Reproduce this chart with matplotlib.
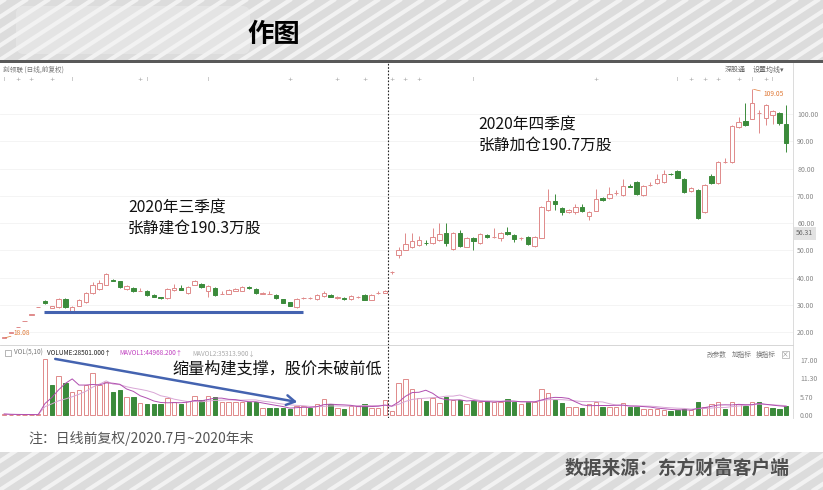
import numpy as np
import pandas as pd
import matplotlib
matplotlib.use('Agg')
import matplotlib.pyplot as plt
from matplotlib.patches import Rectangle, FancyBboxPatch
from matplotlib.collections import LineCollection
from matplotlib.transforms import blended_transform_factory

plt.rcParams['font.family'] = ['Noto Sans CJK SC', 'DejaVu Sans']

# daily bars 2020.7 ~ 2020 year end (前复权)
opens = [18.08, 19.89, 21.88, 24.07, 26.47, 29.12, 31.5, 29.1, 29.3, 32.2,
         27.9, 29.7, 31.1, 34.4, 35.9, 37.4, 39.3, 38.8, 35.9, 36.3,
         35.1, 35.2, 33.7, 32.8, 32.6, 35.5, 36.3, 34.4, 37.4, 37.7,
         35.2, 36.3, 34.0, 34.1, 35.2, 35.2, 36.6, 35.9, 34.1, 34.0,
         33.7, 32.2, 31.1, 29.3, 32.5, 32.5, 32.2, 33.3, 33.7, 32.6,
         32.6, 32.2, 32.9, 33.7, 31.9, 34.3, 34.6, 42.0, 48.4, 50.2,
         51.3, 52.0, 52.8, 52.7, 53.8, 56.4, 50.5, 56.4, 51.3, 54.6,
         52.7, 55.7, 54.8, 54.6, 56.8, 55.7, 54.5, 54.9, 51.6, 54.6,
         64.8, 68.1, 65.6, 64.1, 64.1, 66.0, 62.6, 64.5, 69.2, 69.2,
         71.0, 70.3, 73.8, 75.1, 70.3, 73.9, 74.7, 75.1, 78.1, 79.1,
         76.2, 71.8, 72.2, 64.1, 77.3, 74.7, 82.3, 82.4, 95.2, 97.4,
         98.2, 100.3, 98.5, 99.6, 100.4, 96.3]
highs = [18.08, 19.89, 21.88, 24.07, 26.47, 29.12, 31.8, 29.8, 32.5, 32.5,
         29.6, 32.2, 34.8, 38.5, 39.2, 41.8, 39.6, 39.0, 37.3, 36.6,
         36.2, 35.4, 33.9, 33.0, 36.2, 37.7, 37.4, 36.9, 39.2, 38.0,
         37.3, 36.5, 35.0, 35.8, 36.2, 36.9, 36.9, 36.1, 34.8, 35.0,
         33.9, 32.4, 31.3, 32.5, 33.0, 33.0, 34.0, 35.2, 34.0, 33.3,
         32.8, 33.6, 33.2, 34.0, 34.0, 35.0, 35.4, 42.5, 51.3, 56.4,
         56.4, 55.3, 53.8, 58.2, 60.1, 60.1, 56.7, 57.5, 54.9, 54.8,
         56.3, 56.0, 58.2, 56.7, 58.5, 56.0, 55.0, 55.2, 55.2, 66.3,
         72.5, 70.7, 65.9, 65.2, 67.0, 67.0, 64.4, 72.5, 69.5, 73.2,
         72.0, 76.2, 74.5, 75.4, 73.9, 75.0, 78.0, 79.5, 78.3, 79.4,
         76.4, 73.2, 72.5, 74.3, 78.0, 82.7, 84.0, 96.0, 98.9, 104.0,
         109.05, 101.5, 103.6, 101.5, 100.8, 103.3]
lows = [18.08, 19.89, 21.88, 24.07, 26.47, 29.12, 30.3, 28.9, 29.0, 29.0,
        27.7, 29.5, 30.9, 34.2, 35.7, 37.2, 38.8, 36.3, 35.6, 34.8,
        35.0, 33.5, 32.8, 32.3, 32.3, 35.3, 35.4, 34.2, 37.2, 36.4,
        33.0, 33.5, 33.9, 33.9, 35.0, 35.0, 36.0, 34.2, 33.9, 33.9,
        32.4, 30.6, 29.5, 29.1, 32.2, 32.3, 32.0, 33.1, 32.8, 32.4,
        32.0, 32.0, 32.7, 31.7, 31.7, 33.9, 34.3, 41.5, 47.3, 50.0,
        51.0, 51.8, 52.0, 52.5, 53.6, 51.6, 50.3, 51.4, 51.1, 50.2,
        52.5, 54.7, 54.6, 53.5, 55.8, 53.2, 54.0, 52.0, 51.4, 54.4,
        64.6, 64.8, 63.0, 63.8, 63.5, 64.0, 61.2, 64.3, 68.3, 68.9,
        70.5, 70.1, 73.2, 70.5, 69.8, 73.5, 74.5, 74.9, 77.7, 76.4,
        71.2, 71.5, 61.5, 63.9, 74.4, 74.5, 82.1, 82.2, 95.0, 95.6,
        98.0, 93.0, 96.0, 96.5, 96.0, 86.1]
closes = [18.08, 19.89, 21.88, 24.07, 26.47, 29.12, 30.6, 29.5, 32.2, 29.3,
          29.3, 31.9, 34.4, 37.4, 38.1, 41.4, 39.0, 36.6, 37.0, 35.2,
          35.3, 33.7, 33.0, 32.5, 35.9, 36.3, 35.6, 36.6, 38.8, 36.6,
          37.0, 33.7, 34.2, 35.5, 35.9, 36.6, 36.2, 34.4, 34.5, 34.2,
          32.6, 30.8, 29.7, 32.2, 32.7, 32.7, 33.7, 34.4, 33.0, 33.0,
          32.2, 33.3, 33.1, 31.9, 33.7, 34.5, 35.0, 42.3, 50.2, 52.4,
          53.5, 53.8, 52.6, 54.9, 56.0, 52.7, 56.4, 51.6, 54.6, 53.5,
          56.0, 54.9, 55.0, 56.4, 56.0, 54.2, 54.7, 52.4, 54.9, 66.0,
          68.1, 67.0, 64.1, 64.8, 66.0, 64.5, 64.1, 68.9, 68.5, 70.7,
          71.2, 73.6, 73.4, 70.7, 73.6, 74.1, 76.2, 78.0, 77.9, 76.6,
          71.4, 72.9, 61.9, 74.0, 74.7, 82.4, 82.5, 95.6, 97.1, 96.0,
          104.0, 100.5, 103.3, 101.1, 96.7, 89.4]

# volume in 万手, with bar colour: R = up (hollow red), G = down (green)
volumes = [0.3, 0.1, 0.1, 0.1, 0.1, 0.2,
           17.2, 9.3, 12.0, 10.0, 7.2, 7.7, 9.3, 12.9, 9.3, 10.3,
           7.2, 7.7, 5.6, 5.6, 3.6, 3.5, 3.3, 3.3, 5.1, 3.9,
           3.3, 4.2, 5.9, 4.6, 5.9, 5.5, 4.1, 4.1, 4.1, 4.1,
           4.1, 4.1, 2.1, 2.2, 2.3, 2.3, 1.7, 2.8, 2.8, 2.1,
           3.5, 4.8, 3.5, 2.1, 1.7, 2.8, 2.8, 3.5, 2.2, 2.2, 4.6,
           1.2, 9.8, 11.0, 8.0,
           5.1, 4.3, 5.1, 3.6, 5.5, 4.6, 4.6, 3.3, 4.4, 4.1,
           4.3, 3.9, 4.1, 5.0, 4.1, 3.3, 3.9, 3.9, 7.9, 6.9,
           4.6, 3.6, 2.6, 2.6, 2.2, 3.3, 3.9, 2.6, 2.6, 2.6,
           3.6, 2.4, 2.4, 2.0, 1.8, 2.0, 1.5, 1.3, 1.4, 1.8,
           1.5, 4.1, 2.6, 3.3, 3.9, 1.8, 3.9, 3.5, 2.8, 3.9,
           3.9, 2.4, 2.2, 1.7, 2.85]
vol_dir = ("RRRRRR"
           "RGRGRRRRRR" "GGRGRGGGRR" "GRRGRGRRRR" "GGRGGGGRRG" "RRGRGRRGRR" "R"
           "RRRR"
           "RGRRGRGRGR" "GRRGGRGRRR" "GGRRGRRGRR" "RGGRRRRGGG" "RGRRRGRRGR" "GRGGG")

price_ticks = [20, 30, 40, 50, 60, 70, 80, 90, 100]
vol_ticks = [0.0, 5.7, 11.3, 17.0]
last_price = 56.31

# event markers along the top of the K-line panel
event_idx = [0, 2, 4, 7, 10, 20, 21, 30, 42, 49, 53, 57, 59, 61,
             69, 87, 99, 101, 103, 105, 108, 110, 112, 113]
event_sym = "I+++I+II++++++I+I++++I+I"

# annotation anchors (bar index / price)
q3_end = 56.5          # dotted line between Q3 and Q4
support_price = 27.5
support_span = (5.85, 43.9)

RED = '#e08a8a'
GREEN = '#3b8b3b'
BLUE = '#4463b0'

W, H = 823, 490
fig = plt.figure(figsize=(W / 100, H / 100), dpi=100)


def frac(x0, y0, x1, y1):
    return [x0 / W, 1 - y1 / H, (x1 - x0) / W, (y1 - y0) / H]


# ---- background: striped banners, white chart card
bg = fig.add_axes([0, 0, 1, 1], zorder=0)
bg.set_xlim(0, W)
bg.set_ylim(H, 0)
bg.axis('off')


def striped(y0, y1):
    box = Rectangle((0, y0), W, y1 - y0, facecolor='#dcdcdc', edgecolor='none')
    bg.add_patch(box)
    run = (y1 - y0 + 10) / 0.65
    segs = [[(x0, y1 + 5), (x0 + run, y0 - 5)] for x0 in np.arange(-140, W + 20, 22)]
    lc = LineCollection(segs, colors='#f2f2f2', linewidths=3.0)
    bg.add_collection(lc)
    lc.set_clip_path(box)


striped(0, 60)
striped(452, H)
bg.add_patch(Rectangle((0, 60), W, 3, facecolor='#595959', edgecolor='none'))
bg.add_patch(Rectangle((0, 63), W, 389, facecolor='white', edgecolor='none'))
bg.text(247, 35, '作图', fontsize=19, fontweight='bold', color='black',
        ha='left', va='center')
bg.add_patch(FancyBboxPatch((18, 8), 230, 44, boxstyle='round,pad=2,rounding_size=8',
                            facecolor='#e6e6e6', edgecolor='none', alpha=0.9))

bg.text(28, 438, '注：日线前复权/2020.7月~2020年末', fontsize=10, color='#555555',
        fontweight='medium', ha='left', va='center')
bg.text(790, 468, '数据来源：东方财富客户端', fontsize=13.5, color='#4f4f4f',
        fontweight='bold', ha='right', va='center')

# software UI labels
bg.text(3, 70, '刻领联 (日线,前复权)', fontsize=4.8, color='#777777', va='center')
bg.text(725, 70, '深股通', fontsize=5, color='#666666', va='center')
bg.text(753, 70, '设置均线▾', fontsize=5, color='#666666', va='center')
bg.add_patch(Rectangle((5, 350), 6, 6, facecolor='none', edgecolor='#999999', lw=0.5))
bg.text(14, 353, 'VOL(5,10)', fontsize=4.6, color='#777777', va='center')
bg.text(47, 353, 'VOLUME:28501.000↑', fontsize=4.6, color='#222222', va='center')
bg.text(119, 353, 'MAVOL1:44968.200↑', fontsize=4.6, color='#c040c0', va='center')
bg.text(192, 353, 'MAVOL2:35313.900↓', fontsize=4.6, color='#aaaaaa', va='center')
bg.text(707, 355, '改参数', fontsize=4.8, color='#777777', va='center')
bg.text(732, 355, '加指标', fontsize=4.8, color='#777777', va='center')
bg.text(756, 355, '换指标', fontsize=4.8, color='#777777', va='center')
bg.add_patch(Rectangle((782, 351), 7, 7, facecolor='none', edgecolor='#aaaaaa', lw=0.5))
bg.text(785.5, 354.5, '×', fontsize=4.8, color='#888888', ha='center', va='center')

# ---- K-line panel
idx = np.arange(len(opens))
o, h, l, c = map(np.array, (opens, highs, lows, closes))
up = c >= o
xlim = (-4.2 / 6.8, (793 - 4.2) / 6.8)

ax = fig.add_axes(frac(0, 63, 793, 345), zorder=1)
ax.set_facecolor('none')
ax.set_xlim(*xlim)
ax.set_ylim(15.38, 118.68)
for t in price_ticks:
    ax.axhline(t, color='#f3f3f3', lw=0.6, zorder=0)

edge = [RED if u else GREEN for u in up]
face = ['white' if u else GREEN for u in up]
ax.vlines(idx, l, h, colors=edge, lw=0.7, zorder=2)
body_h = np.maximum(np.abs(c - o), 0.12)
ax.bar(idx, body_h, bottom=np.minimum(o, c), width=0.62, color=face,
       edgecolor=edge, linewidth=0.7, zorder=3)

ax.axvline(q3_end, color='#222222', lw=0.8, ls=(0, (1.5, 1.5)), zorder=4)
ax.plot(support_span, [support_price] * 2, color=BLUE, lw=2.2,
        solid_capstyle='butt', zorder=5)

ax.annotate('109.05', xy=(110.2, 109.05), xytext=(111.6, 107.3), fontsize=4.8,
            color='#e07b39', va='center', ha='left',
            arrowprops=dict(arrowstyle='-', color='#e07b39', lw=0.5,
                            shrinkA=0, shrinkB=0))
ax.annotate('18.08', xy=(0.2, 18.08), xytext=(1.4, 19.6), fontsize=4.8,
            color='#e07b39', va='center', ha='left',
            arrowprops=dict(arrowstyle='-', color='#e07b39', lw=0.5,
                            shrinkA=0, shrinkB=0))

for i, s in zip(event_idx, event_sym):
    ax.text(i, 112.5, s, fontsize=4.5 if s == '+' else 3.8, color='#9a9a9a',
            ha='center', va='center', family='DejaVu Sans')

ax.text(18.2, 68.6, '2020年三季度\n张静建仓190.3万股', fontsize=11.3,
        color='#111111', ha='left', va='top', linespacing=1.22, zorder=6)
ax.text(69.7, 99.0, '2020年四季度\n张静加仓190.7万股', fontsize=11.3,
        color='#111111', ha='left', va='top', linespacing=1.22, zorder=6)

ax.set_xticks([])
ax.yaxis.tick_right()
ax.set_yticks(price_ticks)
ax.set_yticklabels([f'{t:.2f}' for t in price_ticks])
ax.tick_params(axis='y', length=0, pad=3, labelsize=5, labelcolor='#888888')
for side in ('left', 'top'):
    ax.spines[side].set_visible(False)
ax.spines['right'].set_color('#d6d6d6')
ax.spines['bottom'].set_color('#d0d0d0')
ax.spines['right'].set_linewidth(0.6)
ax.spines['bottom'].set_linewidth(0.6)
tr = blended_transform_factory(ax.transAxes, ax.transData)
ax.text(1.004, last_price, f'{last_price:.2f}', transform=tr, fontsize=5,
        color='#666666', va='center', ha='left',
        bbox=dict(boxstyle='square,pad=0.35', facecolor='#e2e2e2', edgecolor='none'))

# ---- volume panel
vax = fig.add_axes(frac(0, 345, 793, 418), zorder=1)
vax.set_facecolor('none')
vax.set_xlim(*xlim)
vax.set_ylim(-0.93, 21.6)
vup = np.array([d == 'R' for d in vol_dir])
vax.bar(idx, volumes, width=0.62, color=['white' if u else GREEN for u in vup],
        edgecolor=[RED if u else GREEN for u in vup], linewidth=0.7, zorder=3)
vol = pd.Series(volumes)
vax.plot(idx, vol.rolling(10, min_periods=1).mean(), color='#d9a6d6', lw=0.7, zorder=4)
vax.plot(idx, vol.rolling(5, min_periods=1).mean(), color='#b04fb0', lw=0.7, zorder=4)
vax.axvline(q3_end, color='#222222', lw=0.8, ls=(0, (1.5, 1.5)), zorder=4)

vax.annotate('', xy=(43.1, 4.0), xytext=(7.5, 17.3),
             arrowprops=dict(arrowstyle='->,head_length=0.6,head_width=0.35',
                             color=BLUE, lw=1.8, shrinkA=0, shrinkB=0), zorder=6)
vax.text(24.7, 14.2, '缩量构建支撑，股价未破前低', fontsize=11.6, color='#111111',
         ha='left', va='center', zorder=6)

vax.set_xticks([])
vax.yaxis.tick_right()
vax.set_yticks(vol_ticks)
vax.set_yticklabels([f'{t:.2f}' for t in vol_ticks])
vax.tick_params(axis='y', length=0, pad=5, labelsize=5, labelcolor='#888888')
for side in ('left', 'top', 'bottom'):
    vax.spines[side].set_visible(False)
vax.spines['right'].set_color('#d6d6d6')
vax.spines['right'].set_linewidth(0.6)

fig.savefig('out.png', dpi=100)
